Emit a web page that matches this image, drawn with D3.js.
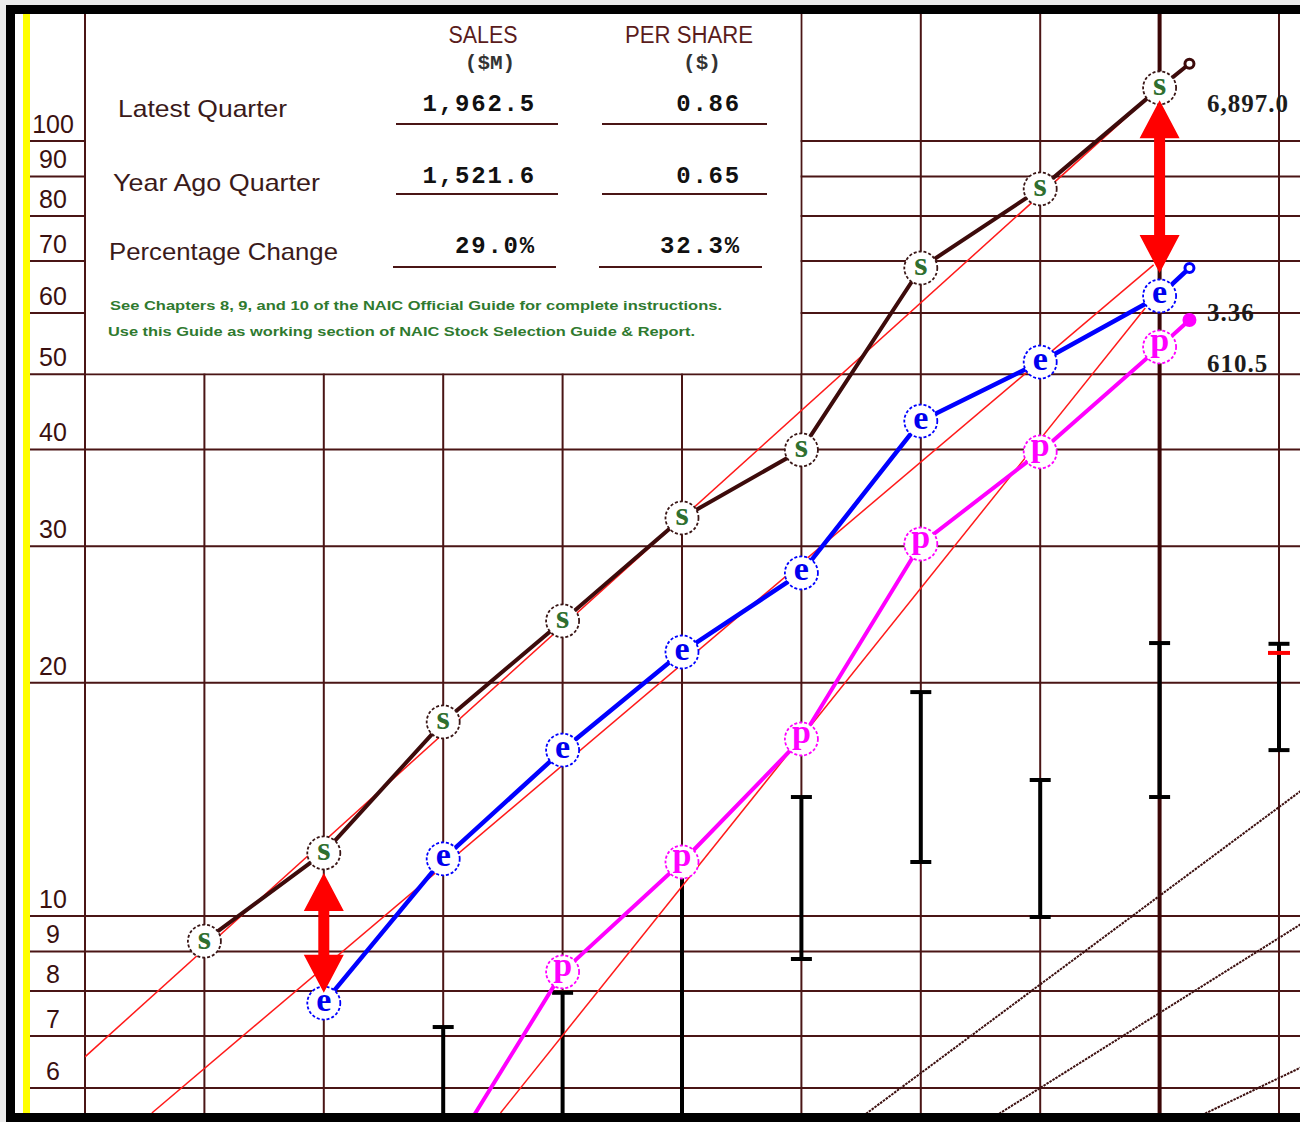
<!DOCTYPE html>
<html>
<head>
<meta charset="utf-8">
<script src="https://cdn.jsdelivr.net/npm/d3@7"></script>
<style>
  html, body { margin: 0; padding: 0; background: #ebebeb; }
  svg { display: block; }
</style>
</head>
<body>
<svg id="chart" width="1300" height="1122"></svg>
<script>
// ---------------- DATA ----------------
const yTickValues = [6, 7, 8, 9, 10, 20, 30, 40, 50, 60, 70, 80, 90, 100];
const gridSlots = [0, 1, 2, 3, 4, 5, 6, 7, 8, 9, 10];

const histSlots   = [1, 2, 3, 4, 5, 6, 7, 8, 9];
const salesVals   = [9.28, 12.06, 17.8, 24.03, 32.63, 39.94, 68.57, 86.74, 117.1];
const epsVals     = [null, 7.72, 11.85, 16.37, 21.91, 27.71, 43.51, 51.85, 63.1];
const pretaxVals  = [null, null, 4.77, 8.47, 11.74, 16.92, 30.2, 39.7, 54.23];

const latestSlot   = 9.25;
const salesLatest  = 125.8;
const epsLatest    = 68.57;
const pretaxLatest = 58.75;

const barSlots  = [3, 4, 5, 6, 7, 8, 9, 10];
const priceHigh = [7.19, 7.96, 11.6, 14.24, 19.45, 14.98, 22.5, 22.45];
const priceLow  = [4.5, 4.5, 4.5, 8.8, 11.74, 9.97, 14.24, 16.37];
const currentPriceSlot = 10;
const currentPrice = 21.85;

const trendNames  = ["sales", "eps", "pretax"];
const trendSlot0  = [0, 0.56, 3.48];
const trendVal0   = [6.58, 5.57, 5.57];
const trendSlot1  = [8.9, 8.95, 8.88];
const trendVal1   = [113.6, 69.2, 60.9];

const guideSlot0 = [7, 8, 9];
const guideVal0  = [6.27, 6.0, 5.21];
const guideSlot1 = [10, 10, 10];
const guideVal1  = [13.82, 9.37, 6.18];

const arrowSlots  = [2, 9];
const arrowTop    = [11.36, 112.9];
const arrowBottom = [7.96, 67.56];

const headerCols   = ["SALES", "PER SHARE"];
const headerUnits  = ["($M)", "($)"];
const rowLabels    = ["Latest Quarter", "Year Ago Quarter", "Percentage Change"];
const salesCells   = ["1,962.5", "1,521.6", "29.0%"];
const shareCells   = ["0.86", "0.65", "32.3%"];
const noteLines    = [
  "See Chapters 8, 9, and 10 of the NAIC Official Guide for complete instructions.",
  "Use this Guide as working section of NAIC Stock Selection Guide & Report."
];
const endLabels    = ["6,897.0", "3.36", "610.5"];

// ---------------- SETUP ----------------
const svg = d3.select("#chart");
const W = 1300, H = 1122;
const plotLeft = 30, plotTop = 14, plotRight = 1300, plotBottom = 1113;

const x = d3.scaleLinear().domain([0, 10]).range([85, 1279]);
const y = d3.scaleLog().domain([10, 100]).range([916, 141]);

const GRID = "#4a1515";
const SANS = "'Liberation Sans', Arial, sans-serif";
const SERIF = "'Liberation Serif', 'Times New Roman', serif";
const MONO = "'Liberation Mono', 'Courier New', monospace";

// background
svg.append("rect").attr("x", 0).attr("y", 0).attr("width", W).attr("height", H).attr("fill", "#ebebeb");
svg.append("rect").attr("x", 15).attr("y", plotTop).attr("width", W - 15).attr("height", plotBottom - plotTop).attr("fill", "#ffffff");

const defs = svg.append("defs");
defs.append("clipPath").attr("id", "plotClip")
  .append("rect").attr("x", 85).attr("y", plotTop).attr("width", plotRight - 85).attr("height", plotBottom - plotTop);

// horizontal grid lines
svg.append("g").selectAll("line").data(yTickValues).join("line")
  .attr("x1", plotLeft).attr("x2", plotRight)
  .attr("y1", d => y(d)).attr("y2", d => y(d))
  .attr("stroke", GRID).attr("stroke-width", 2);

// vertical grid lines
svg.append("g").selectAll("line").data(gridSlots).join("line")
  .attr("x1", d => x(d)).attr("x2", d => x(d))
  .attr("y1", plotTop).attr("y2", plotBottom)
  .attr("stroke", d => d === 9 ? "#3a0606" : GRID)
  .attr("stroke-width", d => d === 9 ? 4 : 2);

// left axis labels (using d3 axis)
const axisG = svg.append("g").attr("transform", "translate(53,0)")
  .call(d3.axisLeft(y).tickValues(yTickValues).tickFormat(d3.format("d")).tickSize(0).tickPadding(0));
axisG.select(".domain").remove();
axisG.selectAll("text")
  .attr("x", 0).attr("dy", null).attr("y", -8.5)
  .attr("text-anchor", "middle")
  .attr("font-family", SANS).attr("font-size", 25).attr("fill", "#3a1010");

// table box covering grid
svg.append("rect")
  .attr("x", x(0) + 1).attr("y", plotTop)
  .attr("width", x(6) - x(0) - 2).attr("height", y(50) - plotTop - 1)
  .attr("fill", "#ffffff");

const table = svg.append("g");
// headers
const headerCX = [483, 689];
const headerW = [69, 128];
table.selectAll("text.hdr").data(headerCols).join("text").attr("class", "hdr")
  .attr("x", (d, i) => headerCX[i]).attr("y", 43)
  .attr("text-anchor", "middle")
  .attr("font-family", SANS).attr("font-size", 23)
  .attr("textLength", (d, i) => headerW[i]).attr("lengthAdjust", "spacingAndGlyphs")
  .attr("fill", "#5a1c1c").text(d => d);
const unitCX = [490, 702];
table.selectAll("text.unit").data(headerUnits).join("text").attr("class", "unit")
  .attr("x", (d, i) => unitCX[i]).attr("y", 69)
  .attr("text-anchor", "middle")
  .attr("font-family", MONO).attr("font-size", 21).attr("font-weight", "bold")
  .attr("fill", "#333").text(d => d);

// row labels
const rowLabelX = [118, 113, 109];
const rowLabelY = [117, 191, 260];
const rowLabelW = [169, 207, 229];
table.selectAll("text.row").data(rowLabels).join("text").attr("class", "row")
  .attr("x", (d, i) => rowLabelX[i]).attr("y", (d, i) => rowLabelY[i])
  .attr("font-family", SANS).attr("font-size", 24)
  .attr("textLength", (d, i) => rowLabelW[i]).attr("lengthAdjust", "spacingAndGlyphs")
  .attr("fill", "#3a1a1a").text(d => d);

// values
const valY = [111, 183, 253];
table.selectAll("text.sv").data(salesCells).join("text").attr("class", "sv")
  .attr("x", 536).attr("y", (d, i) => valY[i])
  .attr("text-anchor", "end")
  .attr("font-family", MONO).attr("font-size", 24).attr("font-weight", "bold")
  .attr("letter-spacing", 1.8).attr("fill", "#111").text(d => d);
table.selectAll("text.pv").data(shareCells).join("text").attr("class", "pv")
  .attr("x", 741).attr("y", (d, i) => valY[i])
  .attr("text-anchor", "end")
  .attr("font-family", MONO).attr("font-size", 24).attr("font-weight", "bold")
  .attr("letter-spacing", 1.8).attr("fill", "#111").text(d => d);

// underlines
const ulY = [124, 194, 267];
const ulSales = [[396, 558], [396, 558], [393, 556]];
const ulShare = [[602, 767], [602, 767], [599, 762]];
ulY.forEach((yy, i) => {
  table.append("line").attr("x1", ulSales[i][0]).attr("x2", ulSales[i][1]).attr("y1", yy).attr("y2", yy)
    .attr("stroke", "#4a1515").attr("stroke-width", 2);
  table.append("line").attr("x1", ulShare[i][0]).attr("x2", ulShare[i][1]).attr("y1", yy).attr("y2", yy)
    .attr("stroke", "#4a1515").attr("stroke-width", 2);
});

// notes
const noteX = [110, 108], noteY = [310, 336], noteW = [612, 587];
table.selectAll("text.note").data(noteLines).join("text").attr("class", "note")
  .attr("x", (d, i) => noteX[i]).attr("y", (d, i) => noteY[i])
  .attr("font-family", SANS).attr("font-size", 13).attr("font-weight", "bold")
  .attr("textLength", (d, i) => noteW[i]).attr("lengthAdjust", "spacingAndGlyphs")
  .attr("fill", "#2f7a2f").text(d => d);

// ---------------- PLOT LAYER ----------------
const plot = svg.append("g").attr("clip-path", "url(#plotClip)");

// guide lines (dashed brown), extended in log space across the visible area
guideSlot0.forEach((s0, i) => {
  const s1 = guideSlot1[i];
  const l0 = Math.log10(guideVal0[i]), l1 = Math.log10(guideVal1[i]);
  const slope = (l1 - l0) / (s1 - s0);
  const sa = s0 - 3, sb = s1 + 1;
  plot.append("line")
    .attr("x1", x(sa)).attr("y1", y(Math.pow(10, l0 + slope * (sa - s0))))
    .attr("x2", x(sb)).attr("y2", y(Math.pow(10, l0 + slope * (sb - s0))))
    .attr("stroke", "#3d1010").attr("stroke-width", 2).attr("stroke-dasharray", "2.5,1");
});

// price bars
barSlots.forEach((s, i) => {
  const g = plot.append("g");
  g.append("line").attr("x1", x(s)).attr("x2", x(s))
    .attr("y1", y(priceHigh[i])).attr("y2", y(priceLow[i]))
    .attr("stroke", "#000").attr("stroke-width", 4);
  g.append("line").attr("x1", x(s) - 10.5).attr("x2", x(s) + 10.5)
    .attr("y1", y(priceHigh[i])).attr("y2", y(priceHigh[i]))
    .attr("stroke", "#000").attr("stroke-width", 4);
  g.append("line").attr("x1", x(s) - 10.5).attr("x2", x(s) + 10.5)
    .attr("y1", y(priceLow[i])).attr("y2", y(priceLow[i]))
    .attr("stroke", "#000").attr("stroke-width", 4);
});
plot.append("line")
  .attr("x1", x(currentPriceSlot) - 11).attr("x2", x(currentPriceSlot) + 11)
  .attr("y1", y(currentPrice)).attr("y2", y(currentPrice))
  .attr("stroke", "#ff0000").attr("stroke-width", 4);

// trend lines
trendNames.forEach((n, i) => {
  plot.append("line")
    .attr("x1", x(trendSlot0[i])).attr("y1", y(trendVal0[i]))
    .attr("x2", x(trendSlot1[i])).attr("y2", y(trendVal1[i]))
    .attr("stroke", "#ff1a1a").attr("stroke-width", 1.5);
});

// series
const series = [
  { key: "s", vals: salesVals, latest: salesLatest, line: "#3d0b0b", ring: "#3a1616", letter: "#2f6f2f", lw: 4, endFill: "#fff" },
  { key: "e", vals: epsVals, latest: epsLatest, line: "#0000ff", ring: "#0000ff", letter: "#0000ee", lw: 4.5, endFill: "#fff" },
  { key: "p", vals: pretaxVals, latest: pretaxLatest, line: "#ff00ff", ring: "#ff00ff", letter: "#ff00ff", lw: 4, endFill: "#ff00ff" }
];

const lineGen = d3.line().defined(d => d.v != null).x(d => x(d.s)).y(d => y(d.v));

series.forEach(sr => {
  const pts = histSlots.map((s, i) => ({ s, v: sr.vals[i] }));
  const withLatest = pts.concat([{ s: latestSlot, v: sr.latest }]);
  plot.append("path").datum(withLatest)
    .attr("d", lineGen).attr("fill", "none")
    .attr("stroke", sr.line).attr("stroke-width", sr.lw)
    .attr("stroke-linejoin", "round");
});

// end markers (latest quarter)
series.forEach(sr => {
  plot.append("circle")
    .attr("cx", x(latestSlot)).attr("cy", y(sr.latest))
    .attr("r", sr.key === "p" ? 5.5 : 4.5)
    .attr("fill", sr.endFill).attr("stroke", sr.line).attr("stroke-width", 3);
});

// circle markers with letters (only those inside the visible plot)
series.forEach(sr => {
  const pts = histSlots.map((s, i) => ({ s, v: sr.vals[i] }))
    .filter(d => d.v != null && y(d.v) < plotBottom);
  const g = plot.append("g").selectAll("g").data(pts).join("g")
    .attr("transform", d => `translate(${x(d.s)},${y(d.v)})`);
  g.append("circle").attr("r", 16.5)
    .attr("fill", "#fff").attr("stroke", sr.ring)
    .attr("stroke-width", 1.8).attr("stroke-dasharray", "3,2");
  g.append("text")
    .attr("text-anchor", "middle")
    .attr("y", sr.key === "p" ? 4 : 7.5)
    .attr("font-family", SERIF).attr("font-weight", "bold")
    .attr("font-size", 34)
    .attr("fill", sr.letter).text(sr.key);
});

// red double arrows
const arrowPath = (cx, yt, yb) => {
  const hw = 20, sw = 5.5, hl = 38;
  return `M${cx},${yt} L${cx + hw},${yt + hl} L${cx + sw},${yt + hl} L${cx + sw},${yb - hl} L${cx + hw},${yb - hl}` +
         ` L${cx},${yb} L${cx - hw},${yb - hl} L${cx - sw},${yb - hl} L${cx - sw},${yt + hl} L${cx - hw},${yt + hl} Z`;
};
arrowSlots.forEach((s, i) => {
  svg.append("path")
    .attr("d", arrowPath(x(s), y(arrowTop[i]), y(arrowBottom[i])))
    .attr("fill", "#ff0000");
});

// right-side value labels
const endLabelY = [112, 321, 372];
svg.selectAll("text.endlbl").data(endLabels).join("text").attr("class", "endlbl")
  .attr("x", 1207).attr("y", (d, i) => endLabelY[i])
  .attr("font-family", SERIF).attr("font-weight", "bold").attr("font-size", 25)
  .attr("letter-spacing", 1).attr("fill", "#1c1c1c").text(d => d);

// ---------------- FRAME ----------------
svg.append("rect").attr("x", 6).attr("y", 5).attr("width", W - 6).attr("height", 9).attr("fill", "#000");
svg.append("rect").attr("x", 6).attr("y", 5).attr("width", 9).attr("height", H - 5).attr("fill", "#000");
svg.append("rect").attr("x", 15).attr("y", 14).attr("width", 8).attr("height", plotBottom - 14).attr("fill", "#fff");
svg.append("rect").attr("x", 23).attr("y", 14).attr("width", 7).attr("height", plotBottom - 14).attr("fill", "#ffff00");
svg.append("rect").attr("x", 6).attr("y", plotBottom).attr("width", W - 6).attr("height", H - plotBottom).attr("fill", "#000");
</script>
</body>
</html>
